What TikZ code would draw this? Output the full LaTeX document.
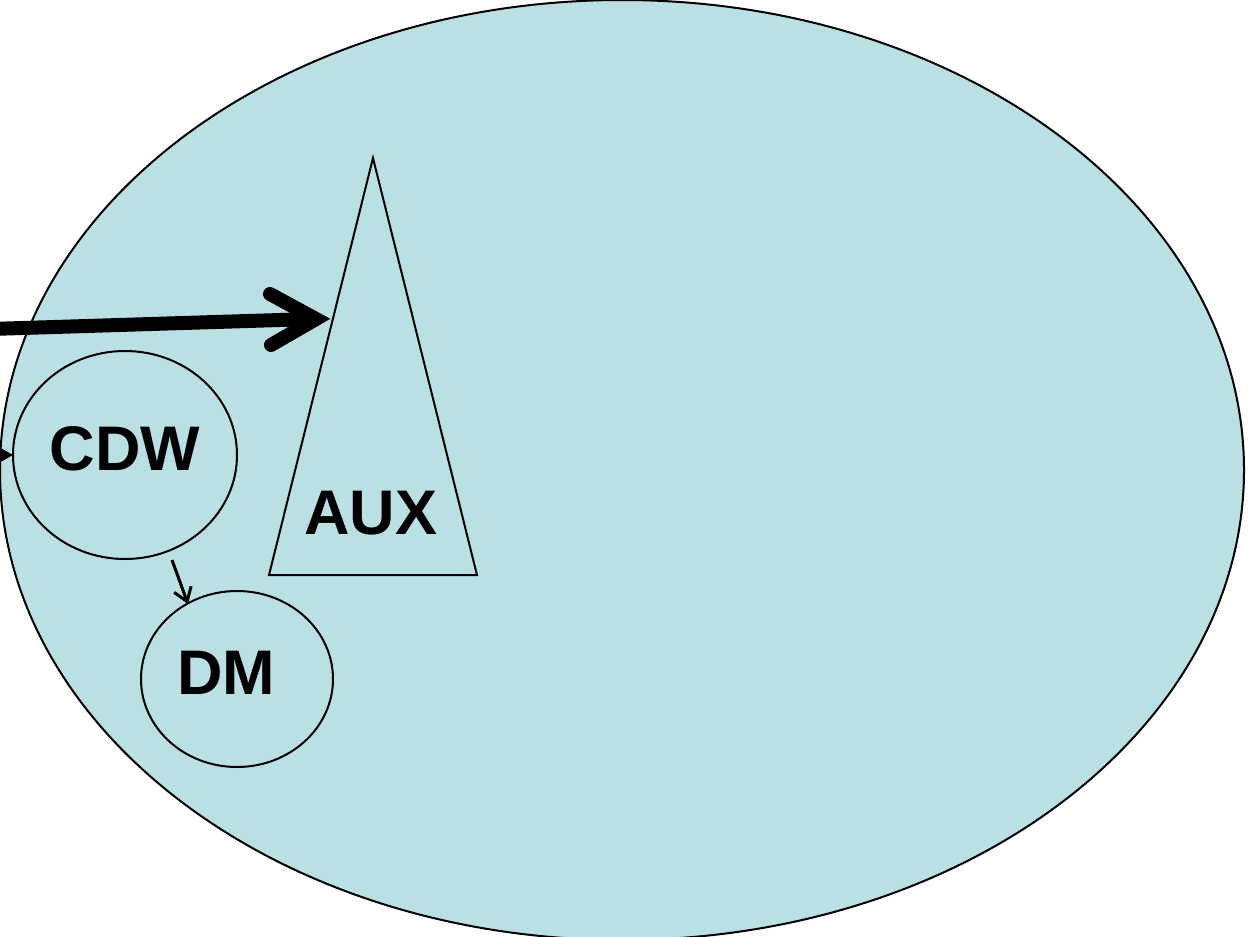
\documentclass[tikz,border=0pt]{standalone}
\usepackage{fontspec}
\setmainfont{Liberation Sans}
\usetikzlibrary{arrows.meta,calc}
\definecolor{bgfill}{RGB}{186,224,227}
\begin{document}
\begin{tikzpicture}[x=1pt,y=-1pt,
  lbl/.style={font=\fontsize{63}{63}\selectfont\bfseries},
  outline/.style={line width=2pt},
  thin/.style={line width=3pt},
]
\useasboundingbox (0,0) rectangle (1248,937);
\begin{scope}
\clip (0,0) rectangle (1248,937);
\fill[bgfill] (622,470) ellipse [x radius=622, y radius=470];
\draw[outline] (622,470) ellipse [x radius=622, y radius=470];
\end{scope}
% triangle AUX
\draw[outline] (373,158) -- (477,575) -- (269,575) -- cycle;
\coordinate (tip) at (316,319);
\node[lbl] (aux) at (371,513) {AUX};
% CDW
\draw[outline] (125,455) ellipse [x radius=112, y radius=104];
\coordinate (cdwW) at (13,455);
\coordinate (cdwS) at (172,560);
\node[lbl] (cdw) at (125,449) {CDW};
% DM
\draw[outline] (237,679) ellipse [x radius=96, y radius=88];
\coordinate (dmN) at (188,604);
\node[lbl] (dm) at (226,673) {DM};
% thick arrow
\coordinate (thickstart) at (-10,329);
\coordinate (barbA) at (270,294);
\coordinate (barbB) at (271,345);
\draw[line width=14pt] (thickstart) -- ($(tip)+(-4,0)$);
\draw[line width=14pt,line cap=round,line join=miter] (barbA) -- (tip) -- (barbB);
% small arrows
\coordinate (leftstart) at (-5,455);
\draw[line width=2pt,-{Triangle[length=12pt,width=13pt]}] (leftstart) -- (cdwW);
\draw[thin,-{Straight Barb[length=13pt,width=18pt]}] (cdwS) -- (dmN);
\end{tikzpicture}
\end{document}
